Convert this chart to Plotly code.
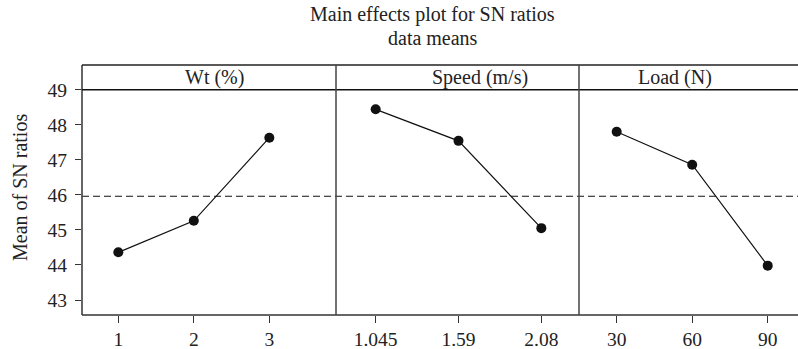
import plotly.graph_objects as go

# ---- data ----
factors = ["Wt (%)", "Speed (m/s)", "Load (N)"]
wt_levels = ["1", "2", "3"]
wt_sn = [44.36, 45.26, 47.63]
speed_levels = ["1.045", "1.59", "2.08"]
speed_sn = [48.44, 47.54, 45.05]
load_levels = ["30", "60", "90"]
load_sn = [47.80, 46.86, 43.98]
grand_mean = 45.96
y_ticks = [43, 44, 45, 46, 47, 48, 49]

levels = [wt_levels, speed_levels, load_levels]
values = [wt_sn, speed_sn, load_sn]

W, H = 798, 349
ML, MR, MT, MB = 82, 0, 65, 34
PW = W - ML - MR
PH = H - MT - MB

def px_x(p):
    return (p - ML) / PW

def px_y(p):
    return (H - MB - p) / PH

FONT = "Liberation Serif"
TXT = 20
TICK = 19.5
strip_bottom = px_y(89.7)
panel_edges = [82, 336, 579, 798]
x_ranges = [[-0.481, 2.883], [-0.479, 2.455], [-0.499, 2.401]]

fig = go.Figure()
axis_names = ["x", "x2", "x3"]
for i in range(3):
    fig.add_trace(go.Scatter(
        x=levels[i], y=values[i], xaxis=axis_names[i], yaxis="y",
        mode="lines+markers",
        line=dict(color="#111111", width=1.2),
        marker=dict(color="#111111", size=10),
        showlegend=False, hoverinfo="skip",
    ))

layout = dict(
    width=W, height=H,
    margin=dict(l=ML, r=MR, t=MT, b=MB),
    paper_bgcolor="white", plot_bgcolor="white",
    font=dict(family=FONT, size=TXT, color="#222222"),
    yaxis=dict(domain=[0, strip_bottom], range=[42.572, 49],
               tickvals=y_ticks, ticks="outside", ticklen=6,
               tickcolor="#333333", showgrid=False, zeroline=False,
               showline=False, tickfont=dict(size=TICK, family=FONT),
               ticklabelstandoff=4, automargin=False),
)
for i in range(3):
    key = "xaxis" if i == 0 else f"xaxis{i+1}"
    layout[key] = dict(
        domain=[px_x(panel_edges[i]), px_x(panel_edges[i + 1])],
        type="category", range=x_ranges[i], anchor="y",
        ticks="outside", ticklen=7, tickcolor="#333333",
        showgrid=False, zeroline=False, showline=False,
        tickfont=dict(size=TICK, family=FONT), automargin=False,
    )
fig.update_layout(**layout)

shapes = []
lc = "#333333"
# grand mean reference line
shapes.append(dict(type="line", xref="paper", yref="y", x0=0, x1=1,
                   y0=grand_mean, y1=grand_mean,
                   line=dict(color="#111111", width=1.2, dash="7px,4px")))
shapes.append(dict(type="line", xref="paper", yref="paper", x0=0, x1=0, y0=0, y1=1,
                   line=dict(color=lc, width=1.5)))
shapes.append(dict(type="line", xref="paper", yref="paper", x0=0, x1=1, y0=1, y1=1,
                   line=dict(color="#222222", width=1.5)))
shapes.append(dict(type="line", xref="paper", yref="paper", x0=0, x1=1,
                   y0=strip_bottom, y1=strip_bottom, line=dict(color="#111111", width=1.5)))
shapes.append(dict(type="line", xref="paper", yref="paper", x0=0, x1=1, y0=0, y1=0,
                   line=dict(color=lc, width=1.5)))
for e in panel_edges[1:3]:
    shapes.append(dict(type="line", xref="paper", yref="paper", x0=px_x(e), x1=px_x(e),
                       y0=0, y1=1, line=dict(color="#444444", width=1.5)))
fig.update_layout(shapes=shapes)

strip_centers = [214.7, 479.5, 675]
ann = []
for f, c in zip(factors, strip_centers):
    ann.append(dict(text=f, xref="paper", yref="paper", x=px_x(c), y=px_y(77),
                    xanchor="center", yanchor="middle", showarrow=False,
                    font=dict(size=TXT, family=FONT, color="#222222")))
ann.append(dict(text="Main effects plot for SN ratios", xref="paper", yref="paper",
                x=px_x(432.5), y=px_y(14), xanchor="center", yanchor="middle",
                showarrow=False, font=dict(size=TXT, family=FONT, color="#222222")))
ann.append(dict(text="data means", xref="paper", yref="paper",
                x=px_x(432.5), y=px_y(38), xanchor="center", yanchor="middle",
                showarrow=False, font=dict(size=TXT, family=FONT, color="#222222")))
ann.append(dict(text="Mean of SN ratios", xref="paper", yref="paper",
                x=px_x(20), y=px_y(187), xanchor="center", yanchor="middle",
                textangle=-90, showarrow=False,
                font=dict(size=TXT, family=FONT, color="#222222")))
fig.update_layout(annotations=ann)

fig.write_html("out.html", config={"displayModeBar": False},
               post_script="document.body.style.margin='0';document.body.style.padding='0';")
